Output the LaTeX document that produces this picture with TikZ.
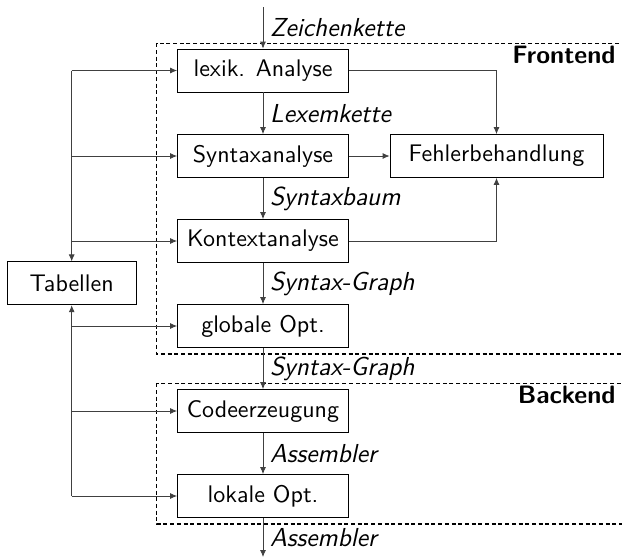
\documentclass[tikz,border=0pt]{standalone}
\usepackage{fontspec}
\usepackage{tikz}
\usetikzlibrary{arrows.meta}
\usetikzlibrary{positioning}
\setsansfont{lmsans10-regular}[Extension=.otf, BoldFont=lmsans10-bold, ItalicFont=lmsans10-oblique]
\newfontfamily\streamfont{lmsans12-oblique}[Extension=.otf]
\renewcommand{\familydefault}{\sfdefault}
\tikzset{phase/.style = {draw, minimum width=85.5pt, minimum height=21.5pt, inner sep=0pt},
         flow/.style = {-{Latex[length=3.5pt,width=3pt]}, black!75},
         stream/.style = {right, midway, text=black, font=\fontsize{13}{15}\streamfont},
         part/.style = {draw, line width=0.7pt, dash pattern=on 2pt off 1.35pt},
         partname/.style = {anchor=north east, inner sep=1pt, font=\fontsize{12.6}{14}\selectfont\bfseries}}

\begin{document}
\begin{tikzpicture}[x=0.5pt, y=-0.5pt, font=\fontsize{12}{14}\selectfont]
     \useasboundingbox (0,0) rectangle (622,559);
     % Frontend / Backend
     \draw [part] (156.7,43.3) rectangle (640,354);
     \draw [part] (156.7,383.3) rectangle (640,524);
     \node [partname] at (618,44) {Frontend};
     \node [partname] at (618,384) {Backend};
     % Phasen
     \node [phase] (lex) at (263,70.5) {lexik. Analyse};
     \node [phase] (syn) at (263,156) {Syntaxanalyse};
     \node [phase] (kon) at (263,241) {Kontextanalyse};
     \node [phase] (glob) at (263,326) {globale Opt.};
     \node [phase] (code) at (263,411) {Codeerzeugung};
     \node [phase] (lok) at (263,496) {lokale Opt.};
     \node [phase, minimum width=106.5pt] (fehler) at (496.5,156) {Fehlerbehandlung};
     \node [phase, minimum width=64.4pt] (tab) at (71.7,283.3) {Tabellen};
     \coordinate (in) at (263,7.3);
     \coordinate (out) at (263,557);
     % Datenfluss
     \draw [flow] (in) -- (lex) node [stream] {Zeichenkette};
     \draw [flow] (lex) -- (syn) node [stream] {Lexemkette};
     \draw [flow] (syn) -- (kon) node [stream] {Syntaxbaum};
     \draw [flow] (kon) -- (glob) node [stream] {Syntax-Graph};
     \draw [flow] (glob) -- (code) node [stream] {Syntax-Graph};
     \draw [flow] (code) -- (lok) node [stream] {Assembler};
     \draw [flow] (lok) -- (out) node [stream] {Assembler};
     % Fehler
     \draw [flow] (lex) -| (fehler);
     \draw [flow] (syn) -- (fehler);
     \draw [flow] (kon) -| (fehler);
     % Tabellen
     \draw [flow] (tab.north |- lex.west) -- (tab);
     \draw [flow] (tab.south |- lok.west) -- (tab);
     \foreach \n in {lex, syn, kon} \draw [flow] (tab.north |- \n.west) -- (\n);
     \foreach \n in {glob, code, lok} \draw [flow] (tab.south |- \n.west) -- (\n);
\end{tikzpicture}
\end{document}
